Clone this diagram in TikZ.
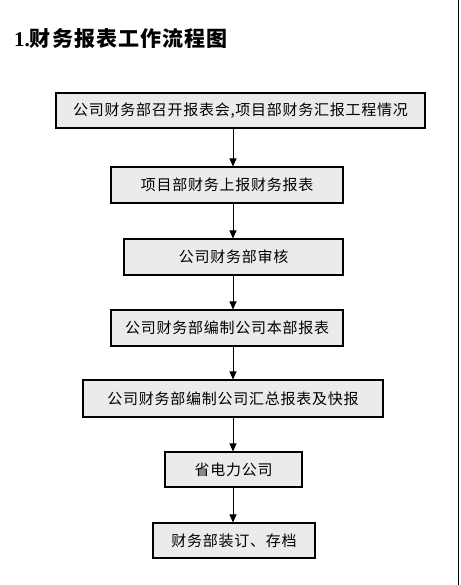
\documentclass[tikz,border=0pt]{standalone}
\usepackage{fontspec}
\newfontfamily\cjk[LetterSpace=5]{Noto Sans CJK SC}
\newfontfamily\titleserif{Liberation Serif}
\usetikzlibrary{arrows.meta}
\begin{document}
\begin{tikzpicture}[x=1pt,y=-1pt,
  flowbox/.style={draw=black,line width=1.1pt,fill=black!8,inner sep=0pt,
    font=\cjk\fontsize{15}{17}\selectfont},
  flowarrow/.style={draw=black,line width=1pt,-{Triangle[length=8pt,width=7pt]}}]
\useasboundingbox (0,0) rectangle (460,585);
\fill[white] (0,0) rectangle (460,585);
\node[anchor=west,inner sep=0pt] (title) at (14,39)
  {\fontsize{21}{23}\selectfont\titleserif\bfseries 1.\cjk\bfseries 财务报表工作流程图};
\coordinate (col) at (233,0);
\node[flowbox,minimum width=369pt,minimum height=35pt] (b1) at (240.5,110.5) {公司财务部召开报表会,项目部财务汇报工程情况};
\node[flowbox,minimum width=232pt,minimum height=36pt] (b2) at (227,185) {项目部财务上报财务报表};
\node[flowbox,minimum width=219pt,minimum height=36pt] (b3) at (233.5,257) {公司财务部审核};
\node[flowbox,minimum width=232pt,minimum height=36pt] (b4) at (227,328) {公司财务部编制公司本部报表};
\node[flowbox,minimum width=300pt,minimum height=37pt] (b5) at (233,398.5) {公司财务部编制公司汇总报表及快报};
\node[flowbox,minimum width=137pt,minimum height=35pt] (b6) at (233.5,469.5) {省电力公司};
\node[flowbox,minimum width=162pt,minimum height=35pt] (b7) at (234,540.5) {财务部装订、存档};
\draw[flowarrow] (b1.south -| col) -- (b2.north -| col);
\draw[flowarrow] (b2.south -| col) -- (b3.north -| col);
\draw[flowarrow] (b3.south -| col) -- (b4.north -| col);
\draw[flowarrow] (b4.south -| col) -- (b5.north -| col);
\draw[flowarrow] (b5.south -| col) -- (b6.north -| col);
\draw[flowarrow] (b6.south -| col) -- (b7.north -| col);
\coordinate (edgetop) at (458.5,0);
\coordinate (edgebot) at (458.5,585);
\draw[line width=1pt] (edgetop) -- (edgebot);
\end{tikzpicture}
\end{document}
